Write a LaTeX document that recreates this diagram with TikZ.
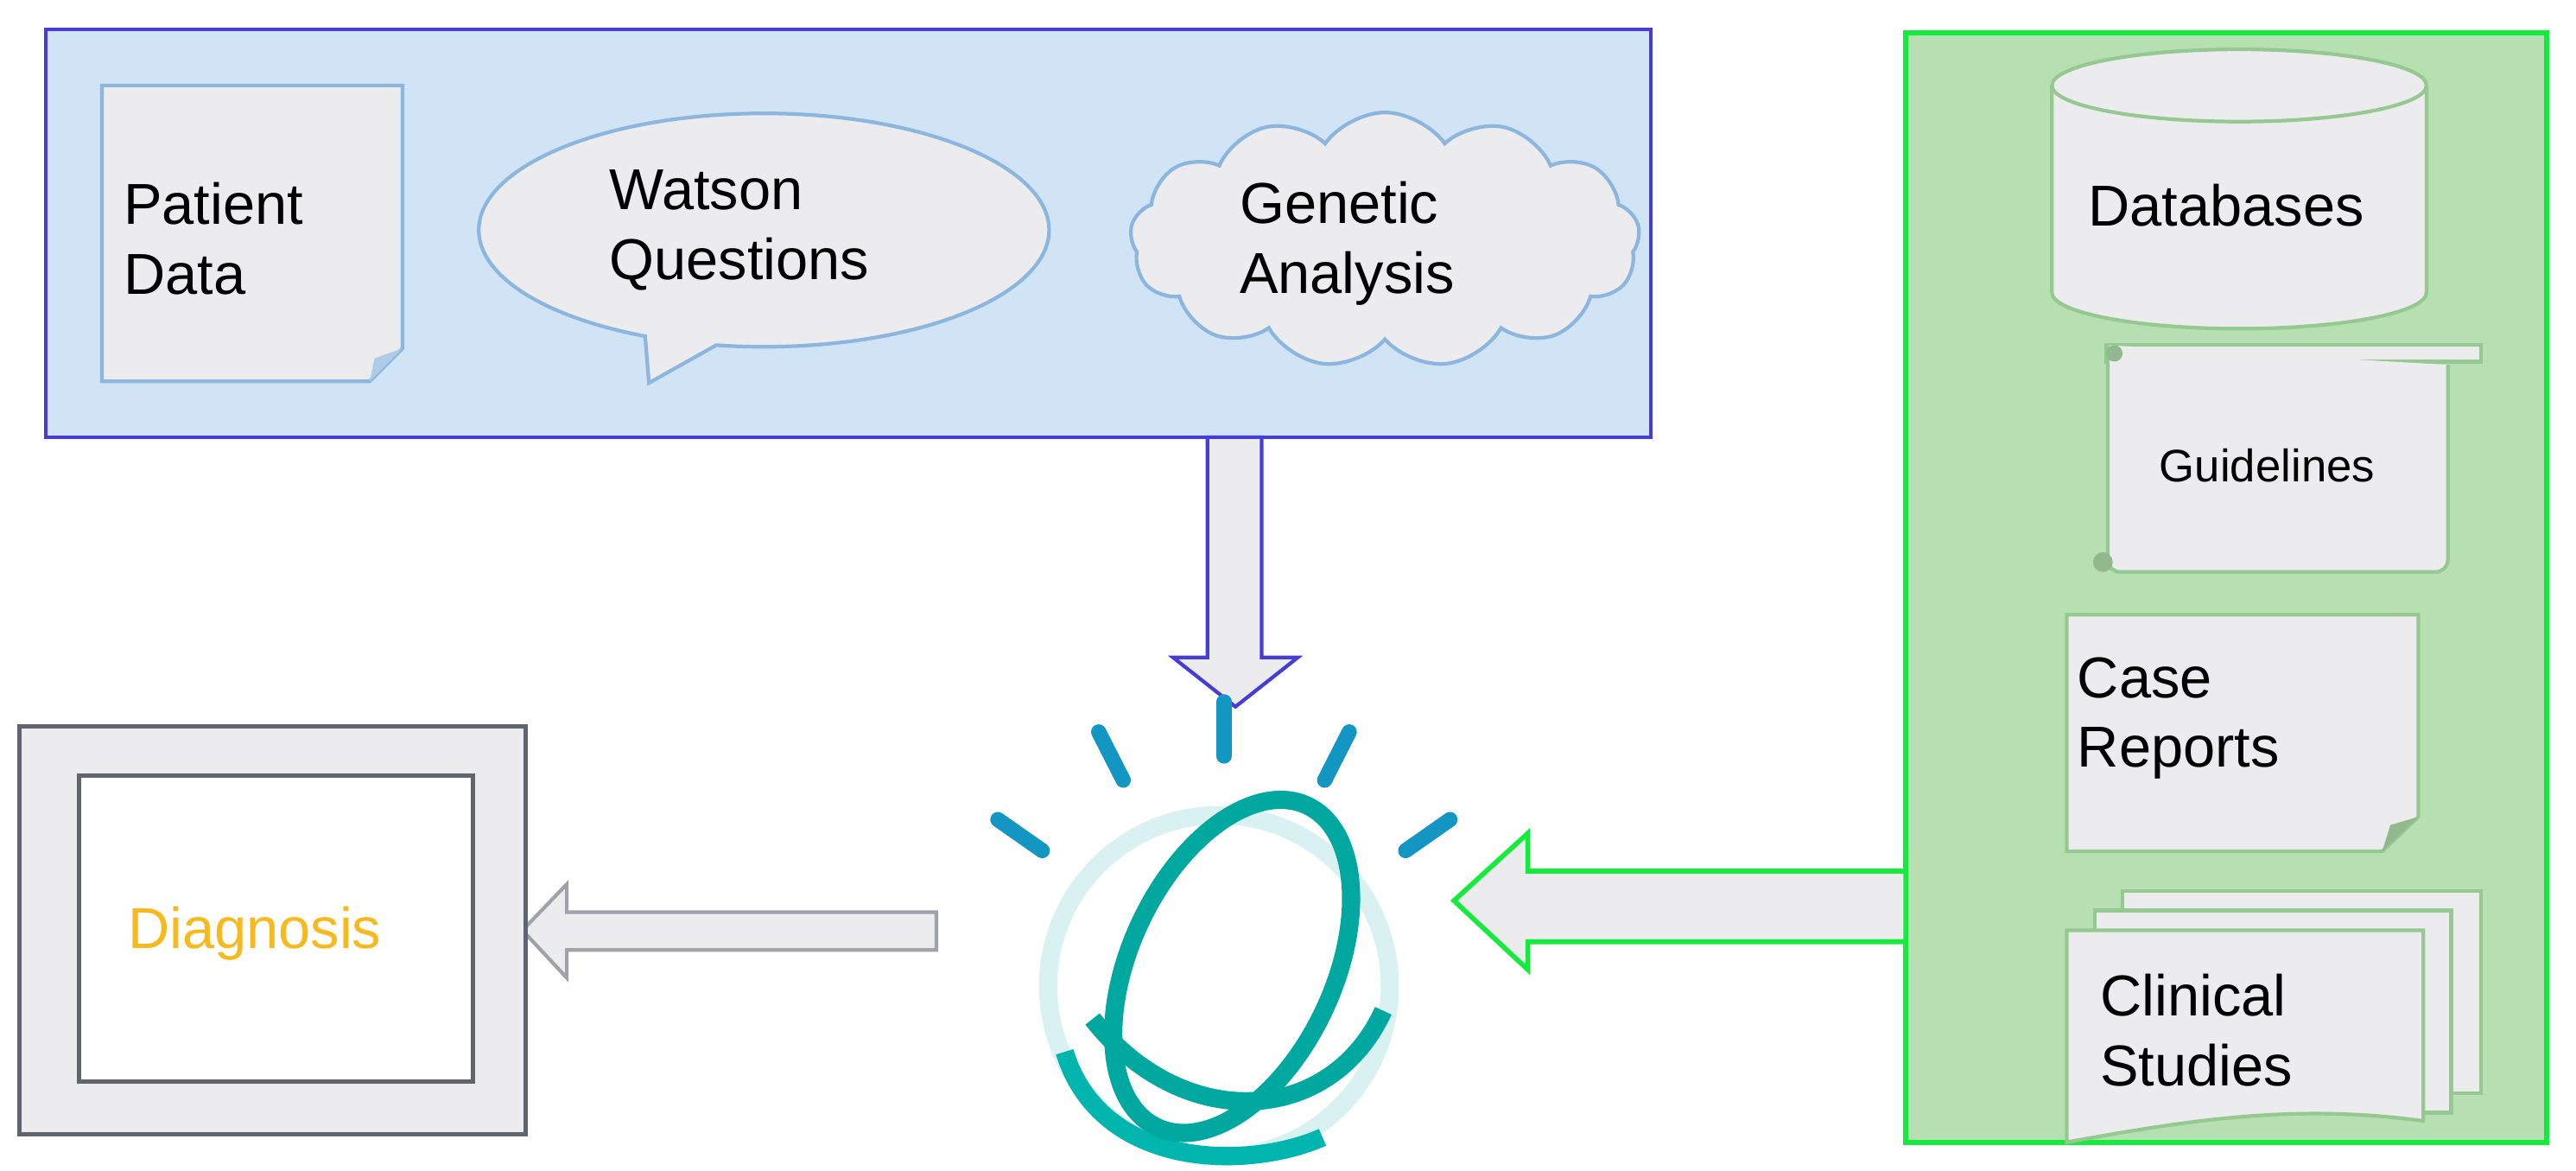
\documentclass[tikz,border=0pt]{standalone}
\usepackage{fontspec}
\setmainfont{Liberation Sans}
\usetikzlibrary{shapes.symbols,shapes.callouts,calc}
\definecolor{inputfill}{RGB}{208,228,245}
\definecolor{inputline}{RGB}{70,60,215}
\definecolor{sourcefill}{RGB}{182,224,178}
\definecolor{sourceline}{RGB}{20,235,60}
\definecolor{paper}{RGB}{236,235,237}
\definecolor{paperblue}{RGB}{140,182,222}
\definecolor{papergreen}{RGB}{150,200,145}
\definecolor{screenline}{RGB}{95,100,110}
\definecolor{diagtext}{RGB}{246,186,30}
\definecolor{teal}{RGB}{0,168,160}
\definecolor{rayblue}{RGB}{20,150,195}
\tikzset{
  doc/.style={fill=paper, line width=1.2pt},
  label/.style={font=\fontsize{19}{23}\selectfont, align=left},
  small/.style={font=\fontsize{15}{18}\selectfont, align=left},
}
\begin{document}
\begin{tikzpicture}[x=0.01902cm, y=-0.01902cm]
\useasboundingbox (0,0) rectangle (1568,712);

% input panel
\draw[fill=inputfill, draw=inputline, line width=1.2pt] (28,18) rectangle (1005,266);
\draw[doc, draw=paperblue] (62,52) -- (245,52) -- (245,212) -- (225,232) -- (62,232) -- cycle;
\fill[paperblue!70] (245,212) -- (228,218) -- (225,232) -- cycle;
\node[label] (patient) at (130,145) {Patient\\Data};
\node[ellipse callout, doc, draw=paperblue, inner sep=0pt, minimum width=6.6cm, minimum height=2.7cm,
      callout absolute pointer={(395,233)}] (questions) at (465,140) {};
\node[label] at (450,140) {Watson\\Questions};
\node[cloud, cloud puffs=13, cloud puff arc=110, aspect=2, doc, draw=paperblue, inner sep=0pt,
      minimum width=5.9cm, minimum height=2.95cm] (genetic) at (843,146) {};
\node[label] at (820,148) {Genetic\\Analysis};

% down arrow
\draw[fill=paper, draw=inputline, line width=1.2pt]
  (735,266) -- (768,266) -- (768,400) -- (790,400) -- (752,430) -- (714,400) -- (735,400) -- cycle;

% sources panel
\draw[fill=sourcefill, draw=sourceline, line width=1.6pt] (1160,20) rectangle (1550,695);
\draw[doc, draw=papergreen] (1249,52) -- (1249,178) arc[start angle=180, end angle=360, x radius=114, y radius=-22]
  -- (1477,52) arc[start angle=0, end angle=180, x radius=114, y radius=-22] -- cycle;
\draw[papergreen, line width=1.2pt] (1249,52) arc[start angle=180, end angle=360, x radius=114, y radius=-22];
\node[label] (db) at (1355,125) {Databases};
% scroll
\draw[doc, draw=papergreen] (1282,210) rectangle (1510,220);
\draw[doc, draw=papergreen, rounded corners=4pt] (1283,210) -- (1283,348) -- (1490,348) -- (1490,222);
\fill[papergreen!80!gray] (1287,215) circle (5);
\fill[papergreen!80!gray] (1280,342) circle (6);
\node[small] (guide) at (1380,283) {Guidelines};
% case reports
\draw[doc, draw=papergreen] (1258,374) -- (1472,374) -- (1472,497) -- (1450,518) -- (1258,518) -- cycle;
\fill[papergreen!80!gray] (1472,497) -- (1455,502) -- (1450,518) -- cycle;
\node[label] (case) at (1326,437) {Case\\Reports};
% clinical studies
\draw[doc, draw=papergreen] (1292,542) rectangle (1510,665);
\draw[doc, draw=papergreen] (1275,554) rectangle (1492,677);
\draw[doc, draw=papergreen] (1258,566) -- (1475,566) -- (1475,682)
  .. controls (1400,672) and (1340,680) .. (1258,695) -- cycle;
\node[label] (clinical) at (1337,627) {Clinical\\Studies};

% green arrow
\draw[fill=paper, draw=sourceline, line width=1.6pt]
  (1160,530) -- (930,530) -- (930,507) -- (885,548) -- (930,590) -- (930,573) -- (1160,573) -- cycle;

% watson logo
\foreach \a in {35,63,90,117,145}
  \draw[rayblue, line width=5pt, line cap=round] ($(745,595)+(-\a:135)$) -- ($(745,595)+(-\a:168)$);
\draw[teal!15, line width=6pt] (742,600) circle (104);
\draw[teal, line width=6pt] (665,620) .. controls (720,690) and (810,685) .. (842,615);
\draw[teal!85!cyan, line width=6pt] (648,640) .. controls (670,712) and (760,712) .. (805,692);
\draw[teal, line width=6pt, rotate around={-25:(750,588)}] (750,588) ellipse (62 and 108);
\node (watson) at (745,595) {};

% output arrow
\draw[fill=paper, draw=screenline!60, line width=1.2pt]
  (570,555) -- (345,555) -- (345,538) -- (318,566) -- (345,595) -- (345,578) -- (570,578) -- cycle;

% diagnosis screen
\draw[fill=paper, draw=screenline, line width=1.4pt] (12,442) rectangle (320,690);
\draw[fill=white, draw=screenline, line width=1.4pt] (48,472) rectangle (288,658);
\node[label, text=diagtext] (diagnosis) at (155,568) {Diagnosis};
\end{tikzpicture}
\end{document}
